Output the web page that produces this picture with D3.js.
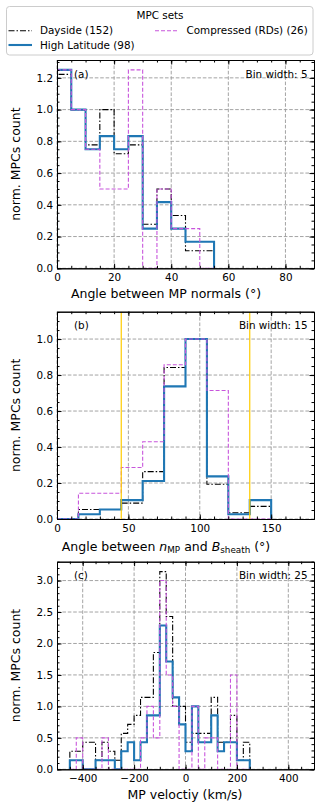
<!DOCTYPE html>
<html><head><meta charset="utf-8">
<script src="https://cdn.jsdelivr.net/npm/d3@7"></script>
<style>body{margin:0;background:#fff}svg{display:block}text{font-family:"DejaVu Sans",sans-serif}</style>
</head><body><svg id="c" width="320" height="809"></svg>
<script>
// ---------------- data ----------------
const legendTitle = "MPC sets";
const seriesNames = ["Dayside (152)", "High Latitude (98)", "Compressed (RDs) (26)"];

// panel (a): angle between MP normals, bin width 5, bins start at 0
const binStartA = 0, binWidthA = 5;
const daysideA    = [1.222, 1.0, 0.778, 1.0, 0.722, 0.778, 0.278, 0.5, 0.333, 0.111, 0.111];
const highLatA    = [1.25, 1.0, 0.75, 0.833, 0.75, 0.833, 0.25, 0.417, 0.25, 0.167, 0.167];
const compressedA = [1.25, 1.0, 0.75, 0.5, 0.5, 1.25, 0.0, 0.5, 0.25, 0.25, 0.0];
const xTicksA = [0, 20, 40, 60, 80];
const yTicksA = [0, 0.2, 0.4, 0.6, 0.8, 1.0, 1.2];

// panel (b): angle between n_MP and B_sheath, bin width 15
const binStartB = 0, binWidthB = 15;
const daysideB    = [0, 0.053, 0.053, 0.088, 0.263, 0.842, 1.0, 0.193, 0.035, 0.070];
const highLatB    = [0, 0.026, 0.053, 0.105, 0.211, 0.737, 1.0, 0.237, 0.026, 0.105];
const compressedB = [0, 0.143, 0.143, 0.286, 0.429, 0.857, 1.0, 0.714, 0, 0];
const refLinesB = [45, 135];
const xTicksB = [0, 50, 100, 150];
const yTicksB = [0, 0.2, 0.4, 0.6, 0.8, 1.0];

// panel (c): MP velocity, bin width 25, bins start at -450
const binStartC = -450, binWidthC = 25;
const daysideC    = [0.286,0.286,0.429,0.429,0.143,0.429,0.286,0.143,0.571,0.714,0.857,1.143,1.143,1.857,3.143,2.429,1.0,1.0,0.429,0.571,0.571,0.571,1.143,0.429,0.429,0.857,0.143,0.429];
const highLatC    = [0.143,0.143,0,0,0.143,0.143,0.143,0,0.286,0.429,0.143,0.429,0.857,0.857,2.286,1.714,1.143,0.714,0.286,1.0,0.429,0.429,0.857,0.286,0.429,0.429,0.143,0.143];
const compressedC = [0,0.5,0,0,0,0.5,0,0,0,0,0,0.5,1.0,0.5,3.0,1.5,1.0,0,0,1.0,0,0.5,0.5,0,0,1.5,0,0];
const xTicksC = [-400, -200, 0, 200, 400];
const yTicksC = [0, 0.5, 1.0, 1.5, 2.0, 2.5, 3.0];

// ---------------- styles ----------------
const FS = 10.4, LFS = 12.5;
const styles = [
  {color:"#000000", width:1.1, dash:"6,2,1.5,2"},
  {color:"#1f77b4", width:2.1, dash:null},
  {color:"#c855dc", width:1.1, dash:"4,2"}
];
const L = 57, R = 314;
const svg = d3.select("#c");

function minorRange(a, b, step) {
  const out = [];
  const n = Math.round((b - a) / step);
  for (let i = 0; i <= n; i++) out.push(a + i * step);
  return out;
}

function panel(cfg) {
  const x = d3.scaleLinear().domain(cfg.xDomain).range([L, R]);
  const y = d3.scaleLinear().domain(cfg.yDomain).range([cfg.bottom, cfg.top]);
  const g = svg.append("g");
  const id = "clip" + cfg.tag.replace(/\W/g, "");
  svg.append("clipPath").attr("id", id).append("rect")
    .attr("x", L).attr("y", cfg.top).attr("width", R - L).attr("height", cfg.bottom - cfg.top);

  // grid
  const grid = g.append("g").attr("stroke", "#9a9a9a").attr("stroke-width", 0.9).attr("stroke-dasharray", "3.6,1.8");
  grid.selectAll(".gx").data(cfg.xTicks).join("line").attr("class","gx")
    .attr("x1", d => x(d)).attr("x2", d => x(d)).attr("y1", cfg.top).attr("y2", cfg.bottom);
  grid.selectAll(".gy").data(cfg.yTicks).join("line").attr("class","gy")
    .attr("y1", d => y(d)).attr("y2", d => y(d)).attr("x1", L).attr("x2", R);

  // histograms (step outlines)
  const plot = g.append("g").attr("clip-path", `url(#${id})`);
  const line = d3.line().x(d => x(d[0])).y(d => y(d[1]));
  cfg.series.forEach((vals, k) => {
    const pts = [[cfg.binStart, 0]];
    vals.forEach((v, i) => {
      const e0 = cfg.binStart + i * cfg.binWidth;
      pts.push([e0, v], [e0 + cfg.binWidth, v]);
    });
    pts.push([cfg.binStart + vals.length * cfg.binWidth, 0]);
    const st = styles[k];
    plot.append("path").attr("d", line(pts)).attr("fill", "none")
      .attr("stroke", st.color).attr("stroke-width", st.width)
      .attr("stroke-dasharray", st.dash).attr("stroke-linejoin", "miter");
  });
  (cfg.vlines || []).forEach(v => {
    plot.append("line").attr("x1", x(v)).attr("x2", x(v)).attr("y1", cfg.top).attr("y2", cfg.bottom)
      .attr("stroke", "#ffcc00").attr("stroke-width", 1.2);
  });

  // axes: major and minor, inward ticks on all sides
  const xMinor = minorRange(cfg.xDomain[0], cfg.xDomain[1], cfg.xMinorStep).filter(v => v > cfg.xDomain[0] && v < cfg.xDomain[1]);
  const yMinor = minorRange(cfg.yDomain[0], cfg.yDomain[1] - 1e-9, cfg.yMinorStep);
  const MJ = 4.5, MN = 2.5;
  function put(axis, tx, ty) {
    const a = g.append("g").attr("transform", `translate(${tx},${ty})`).call(axis);
    a.attr("font-family", "DejaVu Sans").attr("font-size", FS);
    a.selectAll("text").attr("fill", "#000");
    a.selectAll("line").attr("stroke", "#000");
    a.select(".domain").attr("stroke", "#000").attr("stroke-width", 1);
    return a;
  }
  put(d3.axisBottom(x).tickValues(cfg.xTicks).tickSize(-MJ).tickSizeOuter(0).tickPadding(5.5).tickFormat(d3.format("d")), 0, cfg.bottom);
  put(d3.axisBottom(x).tickValues(xMinor).tickSize(-MN).tickSizeOuter(0).tickFormat(""), 0, cfg.bottom);
  put(d3.axisTop(x).tickValues(cfg.xTicks).tickSize(-MJ).tickSizeOuter(0).tickFormat(""), 0, cfg.top);
  put(d3.axisTop(x).tickValues(xMinor).tickSize(-MN).tickSizeOuter(0).tickFormat(""), 0, cfg.top);
  put(d3.axisLeft(y).tickValues(cfg.yTicks).tickSize(-MJ).tickSizeOuter(0).tickPadding(4).tickFormat(d3.format(".1f")), L, 0);
  put(d3.axisLeft(y).tickValues(yMinor).tickSize(-MN).tickSizeOuter(0).tickFormat(""), L, 0);
  put(d3.axisRight(y).tickValues(cfg.yTicks).tickSize(-MJ).tickSizeOuter(0).tickFormat(""), R, 0);
  put(d3.axisRight(y).tickValues(yMinor).tickSize(-MN).tickSizeOuter(0).tickFormat(""), R, 0);

  // annotations
  g.append("text").attr("x", 74).attr("y", cfg.top + 14).attr("dy", "0.35em")
    .attr("font-size", FS).text(cfg.tag);
  g.append("text").attr("x", 307.5).attr("y", cfg.top + 14).attr("dy", "0.35em")
    .attr("font-size", FS).attr("text-anchor", "end").text(cfg.binText);
  // y label
  g.append("text").attr("transform", `translate(16,${(cfg.top + cfg.bottom) / 2}) rotate(-90)`)
    .attr("text-anchor", "middle").attr("dy", "0.35em").attr("font-size", LFS).text("norm. MPCs count");
  // x label
  const xl = g.append("text").attr("x", cfg.xlabelX).attr("y", cfg.xlabelY)
    .attr("text-anchor", "middle").attr("font-size", LFS);
  cfg.xlabel(xl);
  return {x, y};
}

panel({
  tag: "(a)", binText: "Bin width: 5", top: 60, bottom: 268.3,
  xDomain: [0, 90], yDomain: [0, 1.3125], xTicks: xTicksA, yTicks: yTicksA,
  xMinorStep: 5, yMinorStep: 0.05,
  binStart: binStartA, binWidth: binWidthA, series: [daysideA, highLatA, compressedA],
  xlabelX: 166, xlabelY: 297.5,
  xlabel: t => t.text("Angle between MP normals (°)")
});
panel({
  tag: "(b)", binText: "Bin width: 15", top: 311.7, bottom: 519,
  xDomain: [0, 180], yDomain: [0, 1.152], xTicks: xTicksB, yTicks: yTicksB,
  xMinorStep: 10, yMinorStep: 0.05, vlines: refLinesB,
  binStart: binStartB, binWidth: binWidthB, series: [daysideB, highLatB, compressedB],
  xlabelX: 166, xlabelY: 550.5,
  xlabel: t => {
    t.append("tspan").text("Angle between ");
    t.append("tspan").attr("font-style", "italic").text("n");
    t.append("tspan").attr("font-size", 8.8).attr("dy", 2.5).text("MP");
    t.append("tspan").attr("dy", -2.5).text(" and ");
    t.append("tspan").attr("font-style", "italic").text("B");
    t.append("tspan").attr("font-size", 8.8).attr("dy", 2.5).text("sheath");
    t.append("tspan").attr("dy", -2.5).text(" (°)");
  }
});
panel({
  tag: "(c)", binText: "Bin width: 25", top: 561.7, bottom: 769.3,
  xDomain: [-500, 500], yDomain: [0, 3.3], xTicks: xTicksC, yTicks: yTicksC,
  xMinorStep: 50, yMinorStep: 0.1,
  binStart: binStartC, binWidth: binWidthC, series: [daysideC, highLatC, compressedC],
  xlabelX: 185, xlabelY: 799,
  xlabel: t => t.text("MP veloctiy (km/s)")
});

// ---------------- legend ----------------
const lg = svg.append("g");
lg.append("rect").attr("x", 6.5).attr("y", 6.5).attr("width", 306.5).attr("height", 48.5)
  .attr("rx", 3).attr("fill", "#fff").attr("fill-opacity", 0.8).attr("stroke", "#cccccc").attr("stroke-width", 1);
lg.append("text").attr("x", 160).attr("y", 15.5).attr("dy", "0.35em").attr("text-anchor", "middle")
  .attr("font-size", FS).text(legendTitle);
const legendPos = [{x: 8.5, y: 30.7}, {x: 8.5, y: 45}, {x: 155, y: 30.7}];
seriesNames.forEach((name, k) => {
  const p = legendPos[k], st = styles[k];
  lg.append("line").attr("x1", p.x).attr("x2", p.x + 23.5).attr("y1", p.y).attr("y2", p.y)
    .attr("stroke", st.color).attr("stroke-width", st.width).attr("stroke-dasharray", st.dash);
  lg.append("text").attr("x", p.x + 31.5).attr("y", p.y).attr("dy", "0.35em").attr("font-size", FS).text(name);
});
</script>
</body></html>
